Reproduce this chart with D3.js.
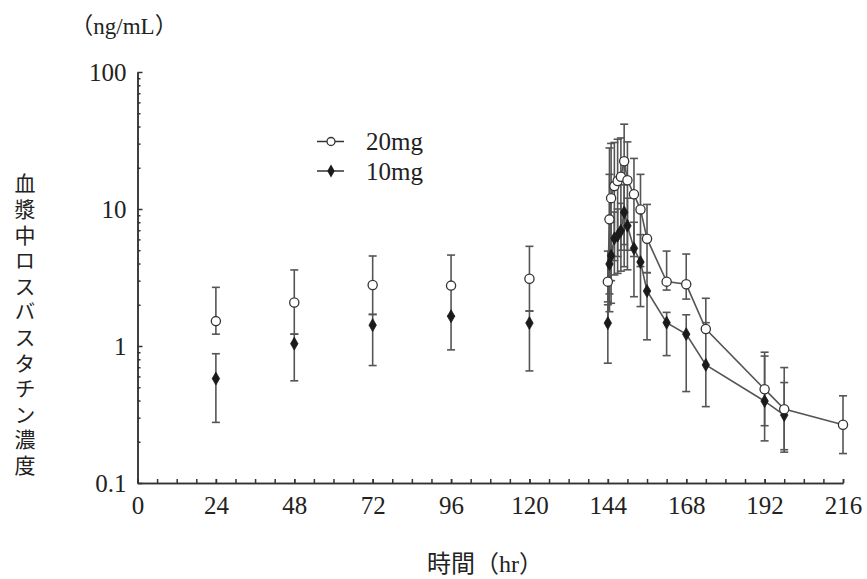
<!DOCTYPE html>
<html><head><meta charset="utf-8">
<script src="https://cdn.jsdelivr.net/npm/d3@7"></script>
<style>body{margin:0;background:#fff}</style>
</head><body>
<svg id="c" width="867" height="579"></svg>
<script>
const times20 = [24,48,72,96,120,144,144.5,145,146,147,148,149,150,152,154,156,162,168,174,192,198,216];
const mean20  = [1.52,2.08,2.79,2.76,3.10,2.95,8.40,12.0,14.7,16.0,17.2,22.3,16.2,12.8,9.93,6.07,2.95,2.82,1.33,0.484,0.346,0.266];
const hi20    = [2.68,3.59,4.54,4.61,5.34,4.93,27.9,30.1,30.6,32.3,33.0,41.6,30.9,23.4,17.9,10.8,4.93,4.69,2.23,0.901,0.696,0.433];
const lo20    = [1.22,1.22,1.70,1.65,1.80,2.1,2.4,3.0,4.2,4.5,5.0,5.5,5.0,4.5,3.8,3.43,2.56,2.2,null,0.262,0.175,0.164];

const times10 = [24,48,72,96,120,144,144.5,145,146,147,148,149,150,152,154,156,162,168,174,192,198];
const mean10  = [0.578,1.04,1.42,1.65,1.47,1.47,3.97,4.56,6.10,6.38,6.94,9.45,7.54,5.16,4.10,2.52,1.48,1.22,0.728,0.396,0.313];
const hi10    = [0.878,1.22,1.70,null,1.80,2.0,17.9,8.0,9.5,10.0,11.0,15.0,12.0,8.0,6.5,3.43,1.76,1.69,1.48,0.844,0.541];
const lo10    = [0.277,0.557,0.72,0.937,0.658,0.749,1.78,2.05,3.30,3.39,3.52,3.79,3.6,2.29,1.94,1.11,0.851,0.465,0.361,0.203,0.168];

const xMajorTicks = [0,24,48,72,96,120,144,168,192,216];
const xMinorTicks = d3.range(0,217,6);
const yMajorTicks = [0.1,1,10,100];
const yTickLabels = ["0.1","1","10","100"];
const seriesNames = ["20mg","10mg"];
const yTitle = "血漿中ロスバスタチン濃度";
const xTitle = "時間（hr）";
const unitLabel = "（ng/mL）";

const svg = d3.select("#c");
const serif = '"Liberation Serif","DejaVu Serif","Noto Sans CJK JP",serif';
const x = d3.scaleLinear().domain([0,216]).range([137.5,843]);
const y = d3.scaleLog().domain([0.1,100]).range([483,72]);
const axisColor = "#333";

const yMinor = [];
[0.1,1,10].forEach(b=>{for(let k=2;k<=9;k++) yMinor.push(b*k);});

const gx = svg.append("g").attr("transform","translate(0,483)");
gx.call(d3.axisBottom(x).tickValues(xMinorTicks).tickFormat("").tickSize(-4).tickSizeOuter(0));
gx.append("g").call(d3.axisBottom(x).tickValues(xMajorTicks).tickFormat(d=>d).tickSize(-4).tickSizeOuter(0).tickPadding(13));
gx.selectAll("path,line").attr("stroke",axisColor).attr("stroke-width",1.5);
gx.selectAll("text").style("font-family",serif).style("font-size","25px").attr("fill","#222");

const gy = svg.append("g").attr("transform","translate(137.5,0)");
gy.call(d3.axisLeft(y).tickValues(yMinor).tickFormat("").tickSize(-3).tickSizeOuter(0));
gy.append("g").call(d3.axisLeft(y).tickValues(yMajorTicks).tickFormat((d,i)=>yTickLabels[i]).tickSize(-5).tickSizeOuter(0).tickPadding(11));
gy.selectAll("path,line").attr("stroke",axisColor).attr("stroke-width",1.5);
gy.selectAll("text").style("font-family",serif).style("font-size","25px").attr("fill","#222").attr("dy","0.35em");

const errColor = "#555";
function errBars(times, mean, lo, hi){
  const g = svg.append("g").attr("stroke",errColor).attr("stroke-width",1.6).attr("fill","none");
  times.forEach((t,i)=>{
    const top = hi[i]!=null?hi[i]:mean[i];
    const bot = lo[i]!=null?lo[i]:mean[i];
    g.append("line").attr("x1",x(t)).attr("x2",x(t)).attr("y1",y(top)).attr("y2",y(bot));
    if(hi[i]!=null) g.append("line").attr("x1",x(t)-4).attr("x2",x(t)+4).attr("y1",y(hi[i])).attr("y2",y(hi[i]));
    if(lo[i]!=null) g.append("line").attr("x1",x(t)-4).attr("x2",x(t)+4).attr("y1",y(lo[i])).attr("y2",y(lo[i]));
  });
}
errBars(times20,mean20,lo20,hi20);
errBars(times10,mean10,lo10,hi10);

const line = d3.line().x(d=>x(d[0])).y(d=>y(d[1]));
function seriesLine(times,mean){
  const pts = times.map((t,i)=>[t,mean[i]]).filter(d=>d[0]>=144);
  svg.append("path").attr("d",line(pts)).attr("fill","none").attr("stroke","#555").attr("stroke-width",1.6);
}
seriesLine(times10,mean10);
seriesLine(times20,mean20);

const diamond = d3.symbol().type(d3.symbolDiamond).size(48);
svg.append("g").selectAll("path").data(times10.map((t,i)=>[t,mean10[i]])).join("path")
  .attr("d",diamond).attr("transform",d=>`translate(${x(d[0])},${y(d[1])})`)
  .attr("fill","#1a1a1a").attr("stroke","#1a1a1a").attr("stroke-width",0.8);
svg.append("g").selectAll("circle").data(times20.map((t,i)=>[t,mean20[i]])).join("circle")
  .attr("cx",d=>x(d[0])).attr("cy",d=>y(d[1])).attr("r",4.6)
  .attr("fill","#fff").attr("stroke","#333").attr("stroke-width",1.3);

const lg = svg.append("g");
[[141.5,"20mg"],[171,"10mg"]].forEach(([ly,name],i)=>{
  lg.append("line").attr("x1",317).attr("x2",344).attr("y1",ly).attr("y2",ly).attr("stroke","#333").attr("stroke-width",1.5);
  if(i===0) lg.append("circle").attr("cx",331).attr("cy",ly).attr("r",4).attr("fill","#fff").attr("stroke","#333").attr("stroke-width",1.3);
  else lg.append("path").attr("d",diamond).attr("transform",`translate(331,${ly})`).attr("fill","#1a1a1a");
  lg.append("text").attr("x",366).attr("y",ly+8.5).text(seriesNames[i])
    .style("font-family",serif).style("font-size","25px").attr("fill","#222");
});

svg.append("text").attr("x",124).attr("y",34).attr("text-anchor","middle").text(unitLabel)
  .style("font-family",serif).style("font-size","23px").attr("fill","#222");
svg.append("text").attr("x",485).attr("y",572).attr("text-anchor","middle").text(xTitle)
  .style("font-family",serif).style("font-size","24px").attr("fill","#222");
svg.append("text").attr("transform","translate(25,173)").text(yTitle)
  .style("writing-mode","vertical-rl").style("letter-spacing","4.6px")
  .style("font-family",'"Noto Sans CJK JP",sans-serif').style("font-size","21px").attr("fill","#222");
</script>
</body></html>
